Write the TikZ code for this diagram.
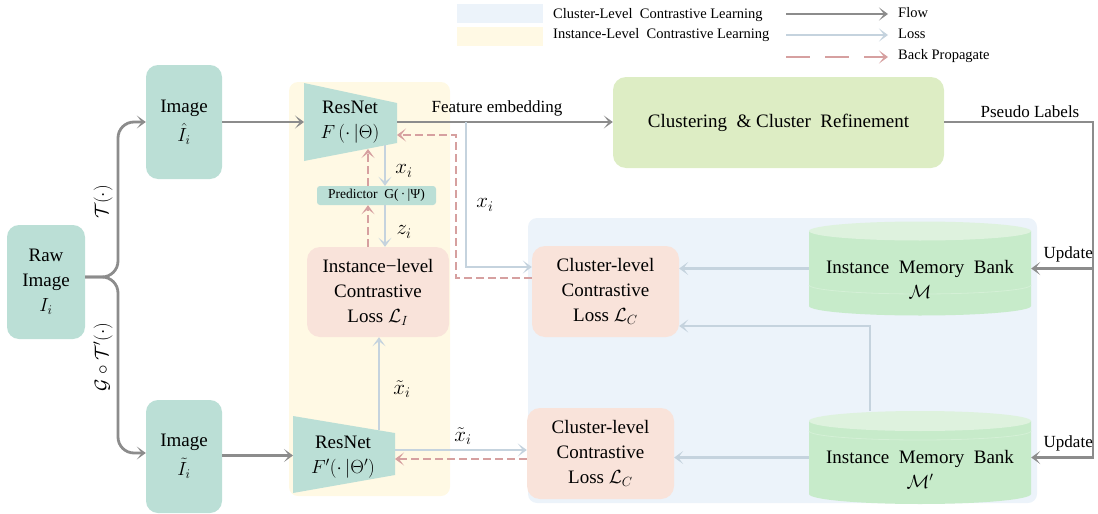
\RequirePackage{fix-cm}
\documentclass[tikz,border=0pt]{standalone}
\usepackage{fontspec}
\setmainfont{Liberation Serif}
\usetikzlibrary{arrows.meta}
\definecolor{tealc}{RGB}{187,223,214}
\definecolor{creamc}{RGB}{255,249,228}
\definecolor{lbluec}{RGB}{236,243,250}
\definecolor{salmonc}{RGB}{249,227,218}
\definecolor{limec}{RGB}{221,237,196}
\definecolor{cylbody}{RGB}{199,235,202}
\definecolor{cyltop}{RGB}{222,242,222}
\definecolor{cylline}{RGB}{212,240,214}
\definecolor{flowc}{RGB}{140,140,140}
\definecolor{lossc}{RGB}{197,211,222}
\definecolor{bpc}{RGB}{214,160,160}
\begin{document}
\begin{tikzpicture}[x=1pt,y=-1pt,
  big/.style={font=\fontsize{19}{25}\selectfont},
  mid/.style={font=\fontsize{17}{21}\selectfont},
  mathlab/.style={font=\fontsize{21}{24}\selectfont},
  small/.style={font=\fontsize{14.5}{18}\selectfont},
  tealbox/.style={fill=tealc, rounded corners=12pt, inner sep=0pt, align=center, big},
  lossbox/.style={fill=salmonc, rounded corners=13pt, inner sep=0pt, align=center, big},
  tip/.style={-{Stealth[length=9pt,width=13pt,inset=5pt]}},
  flow/.style={draw=flowc, line width=2.8pt, tip},
  loss/.style={draw=lossc, line width=2.8pt, tip},
  bp/.style={draw=bpc, line width=2.8pt, dash pattern=on 8pt off 4pt, tip},
  bplegend/.style={draw=bpc, line width=2.8pt, dash pattern=on 24pt off 15pt, tip},
]
\useasboundingbox (0,0) rectangle (1098,514);

% ---------- legend ----------
\fill[lbluec] (457,4) rectangle (543,23);
\fill[creamc] (457,27) rectangle (543,46);
\node[small, anchor=west, inner sep=0pt] (lgc) at (553,15) {Cluster-Level\ \ Contrastive Learning};
\node[small, anchor=west, inner sep=0pt] (lgi) at (553,35) {Instance-Level\ \ Contrastive Learning};
\node[small, anchor=west, inner sep=0pt] (lgflow) at (898,13) {Flow};
\node[small, anchor=west, inner sep=0pt] (lgloss) at (898,34) {Loss};
\node[small, anchor=west, inner sep=0pt] (lgbp) at (898,56) {Back Propagate};
\coordinate (lf) at (786,14);
\coordinate (ll) at (786,35);
\coordinate (lb) at (786,57);
\draw[flow] (lf) -- ++(102,0);
\draw[loss] (ll) -- ++(102,0);
\draw[bplegend] (lb) -- ++(102,0);

% ---------- background regions ----------
\fill[creamc, rounded corners=9pt] (289,82) rectangle (450,496);
\fill[lbluec, rounded corners=9pt] (528,218) rectangle (1037,503);

% ---------- left images ----------
\node[tealbox, minimum width=78pt, minimum height=114pt] (raw) at (46,282) {Raw\\Image\\$I_i$};
\node[tealbox, minimum width=76pt, minimum height=114pt] (imgA) at (184,122) {Image\\[4pt]$\hat{I}_i$};
\node[tealbox, minimum width=76pt, minimum height=113pt] (imgB) at (184,456.5) {Image\\[4pt]$\tilde{I}_i$};

% ---------- ResNet A (trapezoid) ----------
\fill[tealc] (304,83) -- (397,103) -- (397,143) -- (304,161) -- cycle;
\node[big, align=center, inner sep=0pt] (resA) at (350,122) {ResNet\\$F\,(\cdot\,|\Theta)$};
\coordinate (resAin) at (304,122);
\coordinate (resAout) at (397,122);
\coordinate (resAbp) at (397,135);
\coordinate (resAb1) at (385,145);
\coordinate (resAb2) at (368,149);

% ---------- ResNet B ----------
\fill[tealc] (293,416) -- (395,433) -- (395,475) -- (293,493) -- cycle;
\node[big, align=center, inner sep=0pt] (resB) at (343,457) {ResNet\\$F'(\cdot\,|\Theta')$};
\coordinate (resBin) at (293,455.5);
\coordinate (resBtop) at (379,430);
\coordinate (resBout) at (395,450);
\coordinate (resBbp) at (395,459);

% ---------- predictor & instance loss ----------
\node[fill=tealc, rounded corners=3pt, minimum width=119pt, minimum height=19pt, inner sep=0pt,
      font=\fontsize{13.5}{15}\selectfont] (pred) at (376.5,195.5) {Predictor\ \ G(\,·\,|Ψ)};
\node[lossbox, minimum width=142pt, minimum height=90pt] (inst) at (378,292) {Instance−level\\Contrastive\\Loss $\mathcal{L}_I$};

% ---------- cluster boxes ----------
\node[lossbox, minimum width=147pt, minimum height=91pt] (clA) at (605.5,291.5) {Cluster-level\\Contrastive\\Loss $\mathcal{L}_C$};
\node[lossbox, minimum width=147pt, minimum height=91pt] (clB) at (600.5,453.5) {Cluster-level\\Contrastive\\Loss $\mathcal{L}_C$};

% ---------- clustering ----------
\node[fill=limec, rounded corners=13pt, minimum width=331pt, minimum height=91pt, inner sep=0pt, big] (clu) at (778.5,122.5) {Clustering\ \ \&\ Cluster\ \ Refinement};

% ---------- memory banks ----------
\fill[cylbody] (809,231) -- (809,306) arc[start angle=180,end angle=0,x radius=111,y radius=9.5] -- (1031,231) -- cycle;
\fill[cyltop] (920,231) ellipse[x radius=111,y radius=9.5];
\draw[cylline, line width=0.8pt] (809,285) arc[start angle=180,end angle=0,x radius=111,y radius=9];
\node[minimum width=222pt, minimum height=93pt, inner sep=0pt] (memA) at (920,268.5) {};
\node[big, align=center, inner sep=0pt] (memAt) at (920,279) {Instance\ \ Memory\ \ Bank\\$\mathcal{M}$};

\fill[cylbody] (809,421) -- (809,494) arc[start angle=180,end angle=0,x radius=111,y radius=10] -- (1031,421) -- cycle;
\fill[cyltop] (920,421) ellipse[x radius=111,y radius=10];
\draw[cylline, line width=0.8pt] (809,431) arc[start angle=180,end angle=0,x radius=111,y radius=9];
\node[minimum width=222pt, minimum height=93pt, inner sep=0pt] (memB) at (920,457.5) {};
\node[big, align=center, inner sep=0pt] (memBt) at (920,469) {Instance\ \ Memory\ \ Bank\\$\mathcal{M}'$};

% ---------- branch from raw image ----------
\draw[flow, rounded corners=16pt] ([yshift=5pt]raw.east) -- (118,277) -- (118,122) -- (imgA.west |- 0,122);
\draw[flow, rounded corners=16pt] ([yshift=5pt]raw.east) -- (118,277) -- (118,453) -- (imgB.west |- 0,453);
\node[big, rotate=90] (tlab) at (103,202) {$\mathcal{T}(\cdot)$};
\node[big, rotate=90] (glab) at (103,357) {$\mathcal{G}\circ\mathcal{T}'(\cdot)$};

% ---------- flows ----------
\draw[flow] (imgA.east |- resAin) -- (resAin);
\draw[flow] (imgB.east |- resBin) -- (resBin);
\draw[flow] (resAout) -- (clu.west |- resAout);
\node[mid, anchor=south, inner sep=1pt] (fe) at (497,117) {Feature embedding};
\coordinate (rt) at (1093,122);
\draw[flow] (clu.east |- rt) -- (rt) |- (memB.east);
\draw[flow] (rt |- memA.east) -- (memA.east);
\node[mid, anchor=south, inner sep=1pt] (pl) at (1030,119) {Pseudo Labels};
\node[mid, anchor=south east, inner sep=1pt] (up1) at (1094,263) {Update};
\node[mid, anchor=south east, inner sep=1pt] (up2) at (1094,452) {Update};

% ---------- losses ----------
\draw[loss] (resAb1) -- (resAb1 |- pred.north);
\draw[loss] (pred.south -| resAb1) -- (inst.north -| resAb1);
\node[mathlab] (xi1) at (404,171) {$x_i$};
\node[mathlab] (zi) at (404,232) {$z_i$};
\draw[loss] (466,122) |- ([yshift=24.5pt]clA.west);
\node[mathlab] (xi2) at (485,205) {$x_i$};
\draw[loss] (resBtop) -- (inst.south -| resBtop);
\node[mathlab] (xt1) at (402,389) {$\tilde{x}_i$};
\draw[loss] (resBout) -- (resBout -| clB.west);
\node[mathlab] (xt2) at (463,436) {$\tilde{x}_i$};
\draw[loss] (memA.west) -- (memA.west -| clA.east);
\draw[loss] ([xshift=-50pt]memB.north) |- ([yshift=-34.5pt]clA.east);
\draw[loss] (memB.west) -- (memB.west -| clB.east);

% ---------- back propagation ----------
\draw[bp] (inst.north -| resAb2) -- (pred.south -| resAb2);
\draw[bp] (pred.north -| resAb2) -- (resAb2);
\draw[bp] ([yshift=13.5pt]clA.west) -| (456,135) -- (resAbp);
\draw[bp] ([yshift=-5.5pt]clB.west) -- (resBbp);
\end{tikzpicture}
\end{document}
